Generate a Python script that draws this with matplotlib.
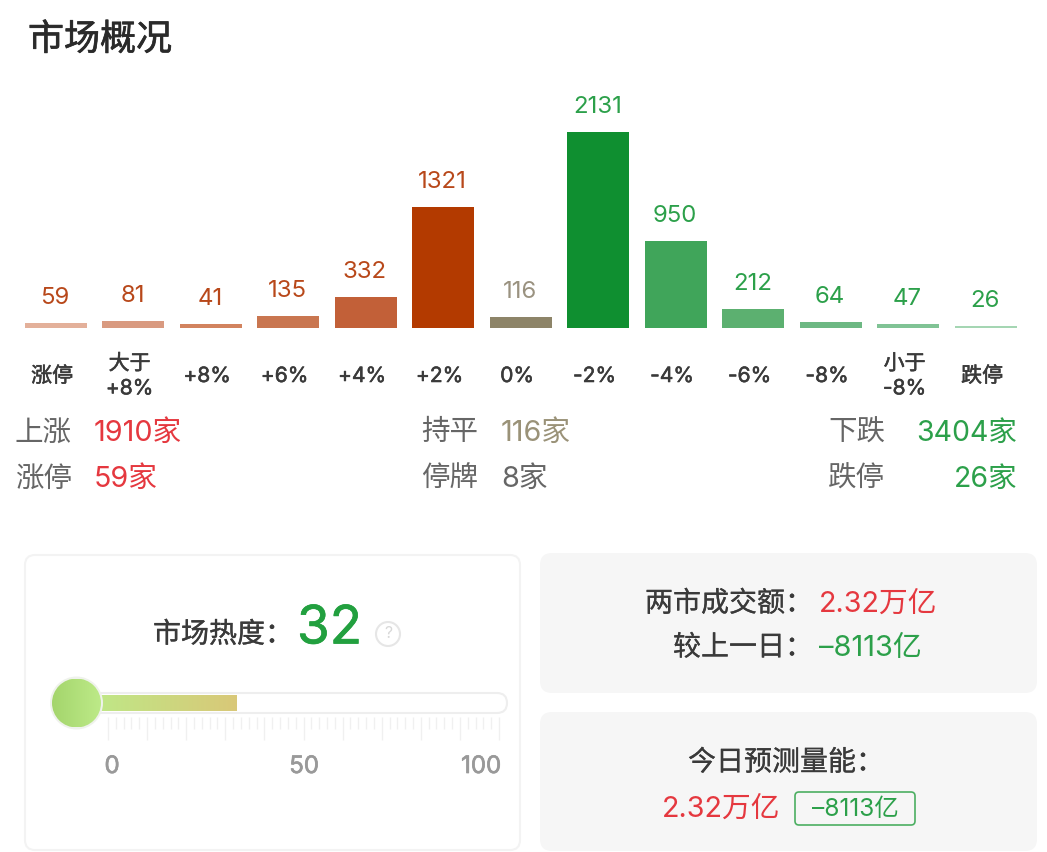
import numpy as np
import matplotlib
matplotlib.use("Agg")
import matplotlib.pyplot as plt
import matplotlib.patheffects as pe
from matplotlib.patches import FancyBboxPatch, Circle
from matplotlib.colors import LinearSegmentedColormap
from matplotlib.transforms import ScaledTranslation

plt.rcParams['font.family'] = ['Inter', 'Noto Sans CJK SC', 'DejaVu Sans']

# ---------- data ----------
categories = ['涨停', '大于\n+8%', '+8%', '+6%', '+4%', '+2%', '0%',
              '-2%', '-4%', '-6%', '-8%', '小于\n-8%', '跌停']
counts = [59, 81, 41, 135, 332, 1321, 116, 2131, 950, 212, 64, 47, 26]
bar_colors = ['#e3b09a', '#d99a80', '#d2835f', '#c97650', '#c26038', '#b33a00', '#8d8468',
              '#0f8f30', '#40a55a', '#5cb070', '#6db883', '#80c395', '#a5d6b3']
label_colors = ['#b8481a'] * 6 + ['#9a9280'] + ['#2ca04a'] * 6
heat_value = 32
heat_ticks = [0, 50, 100]

W, H = 1047, 852
RED, GREEN, TAUPE, GRAY, DARK = '#e5383f', '#2ca04a', '#9a9278', '#666666', '#3a3a3a'

def pt(px):
    return px * 0.72

def bolden(color, w=0.5):
    return [pe.withStroke(linewidth=w, foreground=color)]

fig = plt.figure(figsize=(W / 100, H / 100), dpi=100, facecolor='white')

# pixel-coordinate layer for panel decoration and text
bg = fig.add_axes([0, 0, 1, 1])
bg.set_xlim(0, W)
bg.set_ylim(H, 0)
bg.axis('off')

def T(x, y, s, px, color=DARK, ha='left', **kw):
    return bg.text(x, y, s, fontsize=pt(px), color=color, ha=ha, va='center', **kw)

def card(x0, y0, x1, y1, fc, ec='none', r=10, lw=0):
    p = FancyBboxPatch((x0 + r, y0 + r), x1 - x0 - 2 * r, y1 - y0 - 2 * r,
                       boxstyle=f'round,pad={r},rounding_size={r}',
                       fc=fc, ec=ec, lw=lw)
    bg.add_patch(p)
    return p

T(28, 40, '市场概况', 36, '#2a2a2a', path_effects=bolden('#2a2a2a', 0.5))

# ---------- bar chart ----------
spacing = 77.5
left_px = 55.6 - spacing / 2
base_px, top_px = 328, 100
scale = 196 / 2131
ax = fig.add_axes([left_px / W, 1 - base_px / H, 13 * spacing / W, (base_px - top_px) / H])
ax.patch.set_alpha(0)
xs = np.arange(len(counts))
bars = ax.bar(xs, counts, width=62 / spacing, color=bar_colors, linewidth=0)
ax.set_xlim(-0.5, 12.5)
ax.set_ylim(0, (base_px - top_px) / scale)
for s in ax.spines.values():
    s.set_visible(False)
ax.set_yticks([])
ax.set_xticks(xs)
ax.set_xticklabels(categories, fontsize=pt(21), color=DARK, linespacing=1.3)
ax.tick_params(axis='x', length=0, pad=pt(48))
shift = ScaledTranslation(-3.5 / 72 * 0.72, 0, fig.dpi_scale_trans)
for lab in ax.get_xticklabels():
    lab.set_va('center')
    lab.set_transform(lab.get_transform() + shift)
    lab.set_path_effects(bolden(DARK, 0.4))
for b, v, c in zip(bars, counts, label_colors):
    ax.annotate(str(v), (b.get_x() + b.get_width() / 2, v), xytext=(-0.5, pt(25)),
                textcoords='offset points', ha='center', va='center',
                fontsize=pt(24), color=c)

# ---------- summary rows ----------
T(15, 433, '上涨', 28.5, GRAY)
T(94, 433, '1910家', 28.7, RED)
T(15, 479, '涨停', 28.5, GRAY)
T(94, 479, '59家', 28.7, RED)
T(421.5, 433, '持平', 28.5, GRAY)
T(501, 433, '116家', 28.7, TAUPE)
T(421.5, 479, '停牌', 28.5, GRAY)
T(501, 479, '8家', 28.7, GRAY)
T(828, 433, '下跌', 28.5, GRAY)
T(1017, 433, '3404家', 28.5, GREEN, ha='right')
T(828, 479, '跌停', 28.5, GRAY)
T(1017, 479, '26家', 28.5, GREEN, ha='right')

# ---------- heat card ----------
card(25, 555, 520, 850, 'white', '#f3f3f3', r=10, lw=1.5)
T(153, 635, '市场热度：', 28, DARK, path_effects=bolden(DARK, 0.25))
T(297, 630, str(heat_value), 53, '#22a03f', path_effects=bolden('#22a03f', 0.5))
bg.add_patch(Circle((388, 634), 12, fc='white', ec='#e6e6e6', lw=1.5))
T(388, 634, '?', 16, '#d8d8d8', ha='center')

# track
card(78, 693, 507, 713, 'white', '#eeeeee', r=10, lw=1.5)

# fill: value v sits at 112 + 3.9 * v pixels
def hx(v):
    return 112 + 3.9 * v

fill_cmap = LinearSegmentedColormap.from_list('fill', ['#bdea88', '#d9c878'])
grad = np.linspace(0, 1, 256).reshape(1, -1)
bg.imshow(grad, extent=(85, hx(heat_value), 711, 695), cmap=fill_cmap, aspect='auto', zorder=3)

for i in range(51):
    x = 108 + i * 7.82
    long_tick = i % 5 == 0
    bg.plot([x, x], [717, 740 if long_tick else 729], color='#f0f0f0', lw=1.0, zorder=2,
            solid_capstyle='butt')

# knob
bg.add_patch(Circle((76.5, 703), 26.5, fc='#eff2ec', ec='none', zorder=4))
knob_cmap = LinearSegmentedColormap.from_list('knob', ['#a4d56c', '#bdea88'])
im = bg.imshow(grad, extent=(52, 101, 727, 679), cmap=knob_cmap, aspect='auto', zorder=5)
clip = Circle((76.5, 703), 24.5, transform=bg.transData)
im.set_clip_path(clip)
bg.set_xlim(0, W)
bg.set_ylim(H, 0)

for v, xp in zip(heat_ticks, (112, 304, 481)):
    T(xp, 767, str(v), 24, '#999999', ha='center', path_effects=bolden('#999999', 0.5))

# ---------- right cards ----------
card(540, 553, 1037, 693, '#f6f6f6', r=12)
card(540, 712, 1037, 851, '#f6f6f6', r=12)
T(645, 604, '两市成交额：', 28, DARK, path_effects=bolden(DARK, 0.15))
T(819, 604, '2.32万亿', 28.8, RED)
T(673, 648, '较上一日：', 28, DARK, path_effects=bolden(DARK, 0.15))
T(819, 648, '–8113亿', 29, GREEN)
T(688, 763, '今日预测量能：', 28, DARK, path_effects=bolden(DARK, 0.15))
T(662, 809, '2.32万亿', 28.8, RED)
card(795, 792, 915, 825, 'none', '#4caf62', r=4, lw=1.2)
T(812, 810, '–8113亿', 24.5, GREEN)

fig.savefig('out.png', dpi=100, facecolor='white')
